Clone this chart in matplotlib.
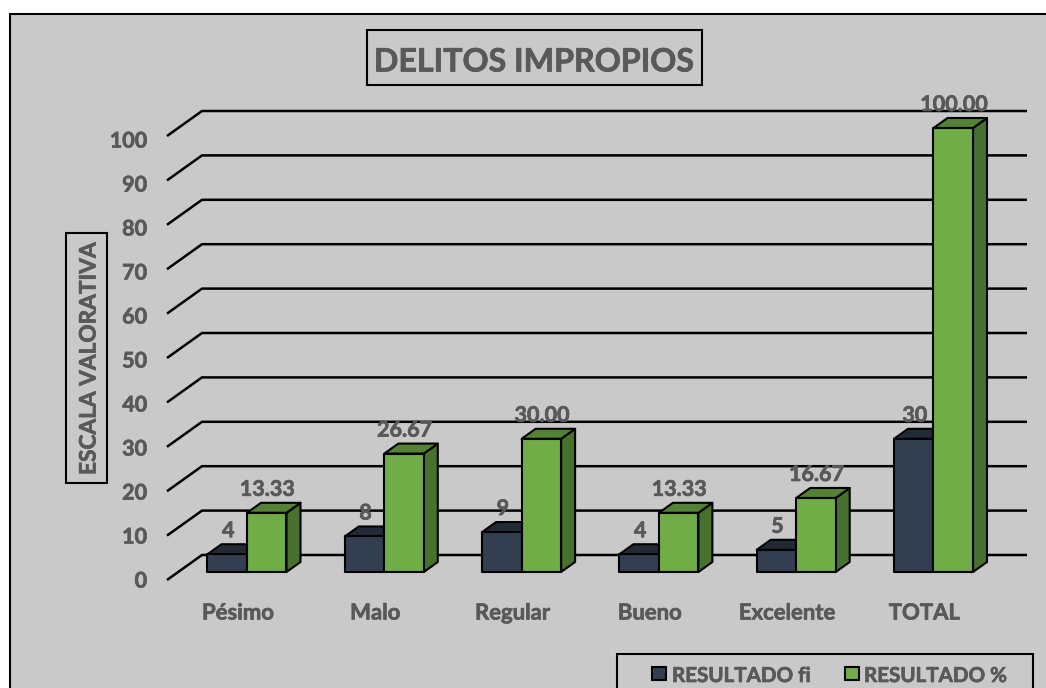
import matplotlib
matplotlib.use("Agg")
import matplotlib.pyplot as plt
import matplotlib.patheffects as pe
from matplotlib.patches import Rectangle, Polygon

categories = ["Pésimo", "Malo", "Regular", "Bueno", "Excelente", "TOTAL"]
fi_values = [4, 8, 9, 4, 5, 30]
pct_values = [13.33, 26.67, 30.00, 13.33, 16.67, 100.00]
pct_labels = ["13.33", "26.67", "30.00", "13.33", "16.67", "100.00"]
y_ticks = [0, 10, 20, 30, 40, 50, 60, 70, 80, 90, 100]
series_names = ["RESULTADO fi", "RESULTADO %"]
title = "DELITOS IMPROPIOS"
y_title = "ESCALA VALORATIVA"

W, H = 1046, 688
PX_CAT, PX_VAL = 137.3, 4.44      # pixels per category / per value unit
X0, Y0 = 247, 572                 # pixel of category 0 centre / value 0
TXT = "#595959"
FONT = "Lato"
LW = 1.5
BOLD = [pe.withStroke(linewidth=0.5, foreground=TXT)]

plt.rcParams["font.family"] = [FONT, "DejaVu Sans"]
fig = plt.figure(figsize=(W / 100, H / 100), dpi=100, facecolor="white")


def fx(px):
    return px / W


def fy(py):
    return 1 - py / H


def dx(px):
    return px / PX_CAT


def dy(px):
    return px / PX_VAL


def fig_box(x0, y0, x1, y1, fc, ec="black", lw=LW, z=0):
    fig.add_artist(Rectangle((fx(x0), fy(y1)), fx(x1) - fx(x0), fy(y0) - fy(y1),
                             transform=fig.transFigure, fc=fc, ec=ec, lw=lw, zorder=z))


# panel background (runs off the right and bottom edges)
fig_box(10, 14, W + 20, H + 20, "#c9c9c9", z=-5)

ax = fig.add_axes([0, 0, 1, 1], facecolor="none")
ax.set_xlim(-X0 / PX_CAT, (W - X0) / PX_CAT)
ax.set_ylim((Y0 - H) / PX_VAL, Y0 / PX_VAL)
ax.axis("off")

# floor/wall gridlines
for v in y_ticks:
    xs = [dx(167 - X0), dx(202 - X0), dx(1027 - X0)]
    ys = [v + dy(572 - 580), v + dy(572 - 555), v + dy(572 - 555)]
    ax.plot(xs, ys, color="black", lw=LW + 0.3, zorder=1, solid_capstyle="butt")
    ax.text(dx(147 - X0), v * 440 / 444 + dy(572 - 581), str(v), ha="right", va="center",
            fontsize=15.5, fontweight="bold", color=TXT, zorder=6, path_effects=BOLD)

BAR_W = dx(39.5)
DEPTH_X, DEPTH_Y = dx(14), dy(10)


def bar3d(x_left, value, front, top, side, z):
    x_right = x_left + BAR_W
    kw = dict(ec="black", lw=LW, joinstyle="round", zorder=z)
    ax.add_patch(Polygon([(x_right, 0), (x_right + DEPTH_X, DEPTH_Y),
                          (x_right + DEPTH_X, value + DEPTH_Y), (x_right, value)], fc=side, **kw))
    ax.add_patch(Polygon([(x_left, value), (x_left + DEPTH_X, value + DEPTH_Y),
                          (x_right + DEPTH_X, value + DEPTH_Y), (x_right, value)], fc=top, **kw))
    ax.add_patch(Rectangle((x_left, 0), BAR_W, value, fc=front, **kw))


for i, (cat, a, b, lab) in enumerate(zip(categories, fi_values, pct_values, pct_labels)):
    bar3d(i - BAR_W, a, "#333f50", "#222a35", "#222a35", 3)
    bar3d(i, b, "#70ad47", "#548235", "#48712d", 4)
    ax.text(i - BAR_W / 2 + dx(1), a + dy(23.5), str(a), ha="center", va="center",
            fontsize=15.5, fontweight="bold", color=TXT, zorder=6, path_effects=BOLD)
    ax.text(i + BAR_W / 2 + dx(0.5), b + dy(23.5), lab, ha="center", va="center",
            fontsize=15.5, fontweight="bold", color=TXT, zorder=6, path_effects=BOLD)
    ax.text(i - dx(9), dy(572 - 613), cat, ha="center", va="center",
            fontsize=15.9, fontweight="bold", color=TXT, zorder=6, path_effects=BOLD)

# title box
fig_box(367, 30, 702, 85, "#c9c9c9", z=5)
fig.text(fx(534.5), fy(62), title, ha="center", va="center", fontsize=23.2,
         fontweight="bold", color=TXT, zorder=6, path_effects=BOLD)

# axis-title box
fig_box(66, 233, 107, 483, "#c9c9c9", z=5)
fig.text(fx(89), fy(358.5), y_title, rotation=90, ha="center", va="center", fontsize=16.3,
         fontweight="bold", color=TXT, zorder=6, path_effects=BOLD)

# legend box (runs off the bottom edge)
fig_box(617, 654, 1033, H + 20, "#c9c9c9", z=5)
for px0, col, name, tx in zip([652, 845], ["#333f50", "#70ad47"], series_names, [672, 864]):
    fig_box(px0, 667, px0 + 14, 680, col, z=6)
    fig.text(fx(tx), fy(676), name, ha="left", va="center", fontsize=14.8,
             fontweight="bold", color=TXT, zorder=6, path_effects=BOLD)

fig.savefig("out.png", dpi=100, facecolor="white")
